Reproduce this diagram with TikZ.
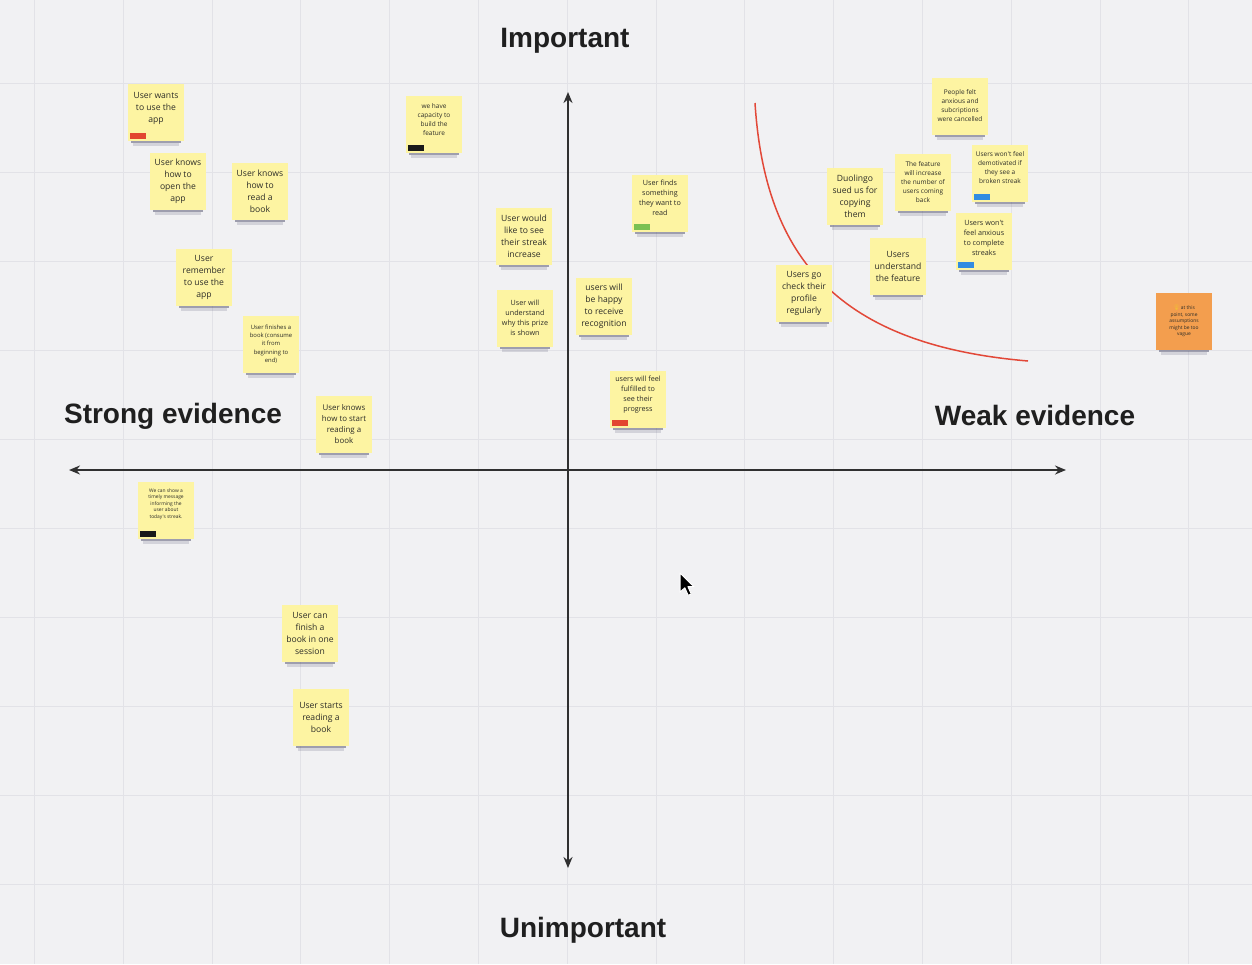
\documentclass[tikz,border=0pt]{standalone}
\usepackage{fontspec}
\usetikzlibrary{arrows.meta}
\newfontfamily\notefont{Open Sans}
\newfontfamily\headfont{Liberation Sans}
\newfontfamily\emojifont{Noto Emoji}
\definecolor{boardbg}{RGB}{241,241,243}
\definecolor{gridline}{RGB}{226,226,231}
\definecolor{noteyellow}{RGB}{253,244,162}
\definecolor{noteorange}{RGB}{243,158,78}
\definecolor{notetextc}{RGB}{45,45,40}
\definecolor{axisc}{RGB}{48,48,48}
\definecolor{curvered}{RGB}{226,72,56}
\definecolor{tagred}{RGB}{226,70,48}
\definecolor{taggreen}{RGB}{122,192,82}
\definecolor{tagblue}{RGB}{50,140,225}
\definecolor{tagblack}{RGB}{25,25,25}
\definecolor{shadowc}{RGB}{45,45,80}
\definecolor{bulbc}{RGB}{240,205,40}

% sticky note: [fill] name, centre
\newcommand{\stickynote}[3][noteyellow]{%
  \coordinate (#2-c) at (#3);
  \fill[shadowc,opacity=.42] ([shift={(-25,24)}]#2-c) rectangle ([shift={(25,31)}]#2-c);
  \fill[shadowc,opacity=.15] ([shift={(-23,31)}]#2-c) rectangle ([shift={(23,33.5)}]#2-c);
  \node[notebox,fill=#1] (#2) at (#2-c) {};
}
% text of a note: name, text style, text, raise
\newcommand{\notetext}[4]{%
  \node[#2,yshift=#4] (#1-t) at (#1.center) {#3};
}
% coloured label strip in the lower left corner of a note
\newcommand{\notetag}[2]{%
  \fill[#2] ([shift={(2,-8)}]#1.south west) rectangle ([shift={(18,-2)}]#1.south west);
}

\begin{document}
\begin{tikzpicture}[x=1pt,y=-1pt,
  notebox/.style={rectangle,minimum width=56pt,minimum height=57pt,inner sep=0pt,draw=none},
  notetxt/.style={text=notetextc,align=center,inner sep=0pt},
  nbig/.style={notetxt,font=\notefont\fontsize{8.6}{12}\selectfont},
  nmidbig/.style={notetxt,font=\notefont\fontsize{7.9}{11}\selectfont},
  nmid/.style={notetxt,font=\notefont\fontsize{7.2}{10}\selectfont},
  nsmall/.style={notetxt,font=\notefont\fontsize{6.5}{9}\selectfont},
  ntiny/.style={notetxt,font=\notefont\fontsize{5.9}{8.3}\selectfont},
  nmicro/.style={notetxt,font=\notefont\fontsize{4.9}{6.4}\selectfont},
  heading/.style={font=\headfont\bfseries\fontsize{28}{32}\selectfont,text=black!88,anchor=base,inner sep=0pt},
  axisline/.style={draw=axisc,line width=2pt,{Stealth[length=11pt,width=9pt]}-{Stealth[length=11pt,width=9pt]}},
]
% board
\fill[boardbg] (0,0) rectangle (1252,964);
\useasboundingbox (0,0) rectangle (1252,964);
\foreach \i in {0,...,13} {
  \draw[gridline,line width=1pt] ({34.4+88.8*\i},0) -- ({34.4+88.8*\i},964);
}
\foreach \j in {0,...,10} {
  \draw[gridline,line width=1pt] (0,{83+89*\j}) -- (1252,{83+89*\j});
}

% axes
\coordinate (top) at (568,92);
\coordinate (bottom) at (568,868);
\coordinate (left) at (69,470);
\coordinate (right) at (1066,470);
\draw[axisline] (bottom) -- (top);
\draw[axisline] (left) -- (right);

% headings
\node[heading] (important) at (565,47) {Important};
\node[heading] (unimportant) at (583,937) {Unimportant};
\node[heading] (strong) at (173,423) {Strong evidence};
\node[heading] (weak) at (1035,425) {Weak evidence};

% dividing curve
\coordinate (curvestart) at (755,103);
\coordinate (curveend) at (1028,361);
\draw[curvered,line width=1.5pt] (curvestart) .. controls (765,260) and (840,345) .. (curveend);

% notes
\stickynote{wants}{156,112}
\notetext{wants}{nbig}{User wants\\to use the\\app}{4pt}
\notetag{wants}{tagred}

\stickynote{openapp}{178,181}
\notetext{openapp}{nbig}{User knows\\how to\\open the\\app}{0pt}

\stickynote{readbook}{260,191}
\notetext{readbook}{nbig}{User knows\\how to\\read a\\book}{0pt}

\stickynote{remember}{204,277}
\notetext{remember}{nbig}{User\\remember\\to use the\\app}{0pt}

\stickynote{finishes}{271,344}
\notetext{finishes}{ntiny}{User finishes a\\book (consume\\it from\\beginning to\\end)}{0pt}

\stickynote{startread}{344,424}
\notetext{startread}{nmidbig}{User knows\\how to start\\reading a\\book}{0pt}

\stickynote{capacity}{434,124}
\notetext{capacity}{nsmall}{we have\\capacity to\\build the\\feature}{4pt}
\notetag{capacity}{tagblack}

\stickynote{streak}{524,236}
\notetext{streak}{nbig}{User would\\like to see\\their streak\\increase}{0pt}

\stickynote{prize}{525,318}
\notetext{prize}{nmid}{User will\\understand\\why this prize\\is shown}{0pt}

\stickynote{finds}{660,203}
\notetext{finds}{nmid}{User finds\\something\\they want to\\read}{5pt}
\notetag{finds}{taggreen}

\stickynote{happy}{604,306}
\notetext{happy}{nbig}{users will\\be happy\\to receive\\recognition}{0pt}

\stickynote{fulfilled}{638,399}
\notetext{fulfilled}{nmid}{users will feel\\fulfilled to\\see their\\progress}{4pt}
\notetag{fulfilled}{tagred}

\stickynote{anxiousfelt}{960,106}
\notetext{anxiousfelt}{nsmall}{People felt\\anxious and\\subcriptions\\were cancelled}{0pt}

\stickynote{increase}{923,182}
\notetext{increase}{nsmall}{The feature\\will increase\\the number of\\users coming\\back}{0pt}

\stickynote{demotivated}{1000,173}
\notetext{demotivated}{nsmall}{Users won't feel\\demotivated if\\they see a\\broken streak}{5pt}
\notetag{demotivated}{tagblue}

\stickynote{duolingo}{855,196}
\notetext{duolingo}{nbig}{Duolingo\\sued us for\\copying\\them}{0pt}

\stickynote{complete}{984,241}
\notetext{complete}{nmid}{Users won't\\feel anxious\\to complete\\streaks}{3pt}
\notetag{complete}{tagblue}

\stickynote{understand}{898,266}
\notetext{understand}{nbig}{Users\\understand\\the feature}{0pt}

\stickynote{profile}{804,293}
\notetext{profile}{nbig}{Users go\\check their\\profile\\regularly}{0pt}

\stickynote[noteorange]{vague}{1184,321}
\notetext{vague}{nmicro}{{\emojifont\fontsize{5.5}{6.4}\selectfont\color{bulbc}💡}\,at this\\point, some\\assumptions\\might be too\\vague}{0pt}

\stickynote{timely}{166,510}
\notetext{timely}{nmicro}{We can show a\\timely message\\informing the\\user about\\today's streak.}{6pt}
\notetag{timely}{tagblack}

\stickynote{onesession}{310,633}
\notetext{onesession}{nbig}{User can\\finish a\\book in one\\session}{0pt}

\stickynote{starts}{321,717}
\notetext{starts}{nbig}{User starts\\reading a\\book}{0pt}

% mouse pointer
\coordinate (pointer) at (680,573);
\filldraw[fill=black,draw=white,line width=1pt,line join=round,shift={(pointer)},scale=1.2]
  (0,0) -- (0,16) -- (4,12.3) -- (6.8,18.6) -- (9.4,17.5) -- (6.6,11.4) -- (11.6,11.4) -- cycle;
\end{tikzpicture}
\end{document}
